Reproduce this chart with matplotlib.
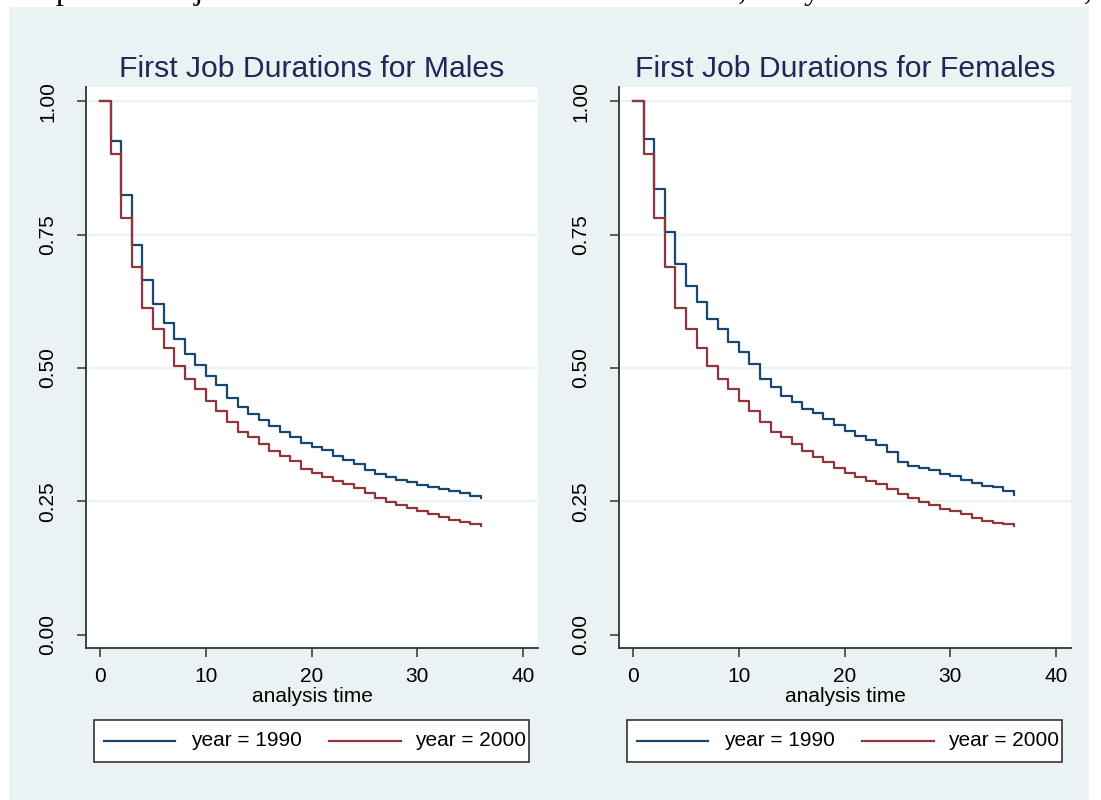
import matplotlib
matplotlib.use("Agg")
import matplotlib.pyplot as plt
from matplotlib.patches import Rectangle
from matplotlib.lines import Line2D

plt.rcParams['font.family'] = ['Liberation Sans', 'DejaVu Sans']

# ---------------- data ----------------
times = list(range(0, 37))

males_1990 = [1.000, 0.926, 0.824, 0.730, 0.666, 0.621, 0.584, 0.554, 0.526, 0.505,
              0.485, 0.469, 0.444, 0.427, 0.414, 0.402, 0.392, 0.380, 0.370, 0.360,
              0.352, 0.346, 0.335, 0.328, 0.320, 0.308, 0.301, 0.296, 0.290, 0.286,
              0.281, 0.276, 0.273, 0.270, 0.265, 0.260, 0.256]
males_2000 = [1.000, 0.902, 0.781, 0.689, 0.613, 0.573, 0.537, 0.503, 0.480, 0.460,
              0.438, 0.419, 0.399, 0.380, 0.371, 0.358, 0.344, 0.335, 0.325, 0.311,
              0.303, 0.295, 0.288, 0.282, 0.275, 0.265, 0.257, 0.249, 0.243, 0.237,
              0.232, 0.226, 0.220, 0.215, 0.211, 0.207, 0.203]
females_1990 = [1.000, 0.930, 0.835, 0.755, 0.696, 0.654, 0.624, 0.592, 0.573, 0.549,
                0.531, 0.508, 0.480, 0.465, 0.448, 0.436, 0.423, 0.415, 0.405, 0.393,
                0.382, 0.373, 0.365, 0.356, 0.343, 0.324, 0.316, 0.312, 0.308, 0.301,
                0.298, 0.290, 0.285, 0.279, 0.276, 0.270, 0.261]
females_2000 = [1.000, 0.902, 0.781, 0.689, 0.613, 0.573, 0.537, 0.503, 0.480, 0.460,
                0.438, 0.419, 0.398, 0.380, 0.371, 0.358, 0.344, 0.334, 0.324, 0.312,
                0.303, 0.295, 0.288, 0.282, 0.273, 0.263, 0.256, 0.249, 0.243, 0.236,
                0.231, 0.226, 0.219, 0.214, 0.210, 0.207, 0.203]

panel_titles = ["First Job Durations for Males", "First Job Durations for Females"]
legend_labels = ["year = 1990", "year = 2000"]
x_ticks = [0, 10, 20, 30, 40]
y_ticks = [0.00, 0.25, 0.50, 0.75, 1.00]
y_tick_labels = ["0.00", "0.25", "0.50", "0.75", "1.00"]
x_label = "analysis time"
caption = "Graph 1. First job survival functions for men and women, entry in 1990 and in 2000,"

# ---------------- style ----------------
W, H = 1101, 800
BG = '#EAF2F3'
C1 = '#1A476F'
C2 = '#90353B'
TITLE_C = '#1c2a55'
AXC = '#333333'

fig = plt.figure(figsize=(W / 100, H / 100), dpi=100, facecolor='white')
fig.patches.append(Rectangle((9 / W, 0), (1089 - 9) / W, (H - 7) / H,
                             transform=fig.transFigure, facecolor=BG,
                             edgecolor='none', zorder=-10))

# caption of the source page, cut off at the top edge as in the reference
fig.text(8 / W, 1 + 1 / H, caption, family=['Liberation Serif', 'DejaVu Serif'],
         fontsize=23, ha='left', va='baseline', color='black', zorder=-5)


def add_axes_px(x0, y0, x1, y1):
    return fig.add_axes([x0 / W, 1 - y1 / H, (x1 - x0) / W, (y1 - y0) / H])


panels = [
    (86, panel_titles[0], males_1990, males_2000),
    (619, panel_titles[1], females_1990, females_2000),
]

for x0, title, s1990, s2000 in panels:
    ax = add_axes_px(x0, 87, x0 + 452, 648)
    ax.set_facecolor('white')
    ax.set_xlim(-1.33, 41.4)
    ax.set_ylim(-0.025, 1.027)
    for sp in ['top', 'right']:
        ax.spines[sp].set_visible(False)
    for sp in ['left', 'bottom']:
        ax.spines[sp].set_color(AXC)
        ax.spines[sp].set_linewidth(1.3)

    ax.set_yticks(y_ticks)
    ax.set_yticklabels(y_tick_labels, rotation=90, va='center')
    ax.set_xticks(x_ticks)
    ax.tick_params(axis='both', colors=AXC, labelcolor='black', labelsize=15,
                   length=6.5, width=1.1)
    ax.tick_params(axis='y', pad=14)
    ax.tick_params(axis='x', pad=7)

    for yv in y_ticks[1:]:
        ax.axhline(yv, color=BG, lw=1.6, zorder=1)

    ax.step(times, s1990, where='post', color=C1, lw=1.6, zorder=3)
    ax.step(times, s2000, where='post', color=C2, lw=1.6, zorder=3)

    ax.set_xlabel(x_label, fontsize=15, labelpad=1)
    ax.set_title(title, fontsize=21.7, color=TITLE_C, pad=7)

    # legend box (Stata style)
    off = x0 - 86
    lx0, lx1, ly0, ly1 = 93.6 + off, 529 + off, 720, 762
    fig.patches.append(Rectangle((lx0 / W, 1 - ly1 / H), (lx1 - lx0) / W,
                                 (ly1 - ly0) / H, transform=fig.transFigure,
                                 facecolor='white', edgecolor=AXC, lw=1.2,
                                 zorder=2))
    ly = 1 - 741 / H
    for (a, b, tx), col, lab in zip([(103.6, 175, 191), (328.6, 400.7, 415)],
                                    [C1, C2], legend_labels):
        fig.lines.append(Line2D([(a + off) / W, (b + off) / W], [ly, ly],
                                transform=fig.transFigure, color=col, lw=1.6,
                                zorder=3))
        fig.text((tx + off) / W, ly, lab, fontsize=15, ha='left',
                 va='center', zorder=4)

fig.savefig('out.png', dpi=100, facecolor='white')
